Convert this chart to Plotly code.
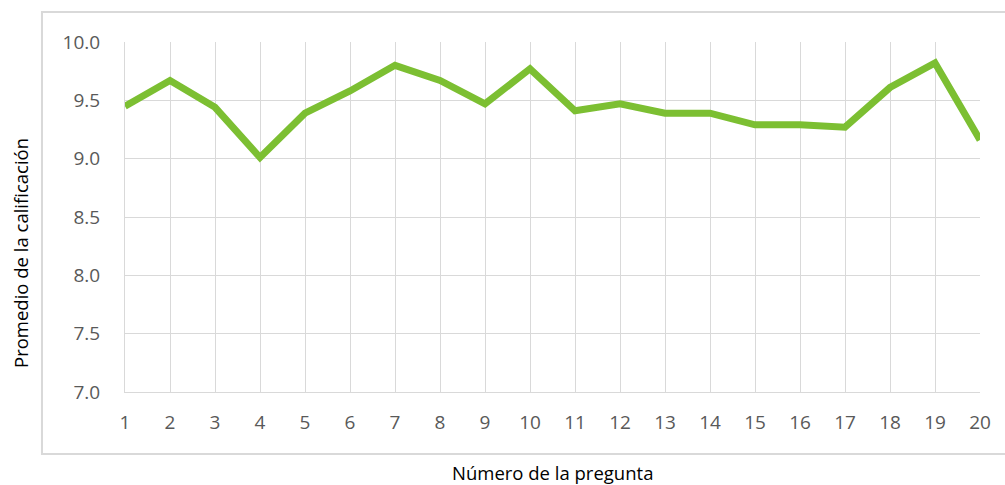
import plotly.graph_objects as go

preguntas = list(range(1, 21))
promedio = [9.45, 9.67, 9.44, 9.01, 9.39, 9.58, 9.80, 9.67, 9.47, 9.77,
            9.41, 9.47, 9.39, 9.39, 9.29, 9.29, 9.27, 9.61, 9.82, 9.16]
y_ticks = [7.0, 7.5, 8.0, 8.5, 9.0, 9.5, 10.0]

fig = go.Figure()
fig.add_trace(go.Scatter(
    x=preguntas, y=promedio, mode="lines",
    line=dict(color="#7cbf32", width=7),
    hoverinfo="x+y", showlegend=False,
))

tick_font = dict(family="Open Sans, Noto Sans, sans-serif", size=19, color="#595959")
title_font = dict(family="Open Sans, Noto Sans, sans-serif", size=18.5, color="#000000")

fig.update_layout(
    width=1005, height=485,
    margin=dict(l=125, r=25, t=42, b=93),
    paper_bgcolor="white", plot_bgcolor="white",
    xaxis=dict(
        range=[1, 20], tickmode="array", tickvals=preguntas,
        ticktext=[str(p) for p in preguntas],
        showgrid=True, gridcolor="#d9d9d9", gridwidth=1,
        zeroline=False, showline=True, linecolor="#d9d9d9",
        tickfont=tick_font, ticks="", ticklabelstandoff=13,
    ),
    yaxis=dict(
        range=[7, 10], tickmode="array", tickvals=y_ticks,
        ticktext=[f"{v:.1f}" for v in y_ticks],
        showgrid=True, gridcolor="#d9d9d9", gridwidth=1,
        zeroline=False, showline=True, linecolor="#d9d9d9",
        tickfont=tick_font, ticks="", ticklabelstandoff=20,
    ),
    shapes=[dict(
        type="rect", xref="paper", yref="paper",
        x0=-0.0971, x1=1.045, y0=-0.1771, y1=1.0857,
        line=dict(color="#d9d9d9", width=2), fillcolor="rgba(0,0,0,0)",
        layer="below",
    )],
    annotations=[
        dict(text="Promedio de la calificación", xref="paper", yref="paper",
             x=(20 - 125) / 855, y=(392 - 253) / 350, textangle=-90, showarrow=False,
             xanchor="center", yanchor="middle", font=title_font),
        dict(text="Número de la pregunta", xref="paper", yref="paper",
             x=(552 - 125) / 855, y=(392 - 473) / 350, showarrow=False,
             xanchor="center", yanchor="middle", font=title_font),
    ],
)

fig.write_html("out.html")
